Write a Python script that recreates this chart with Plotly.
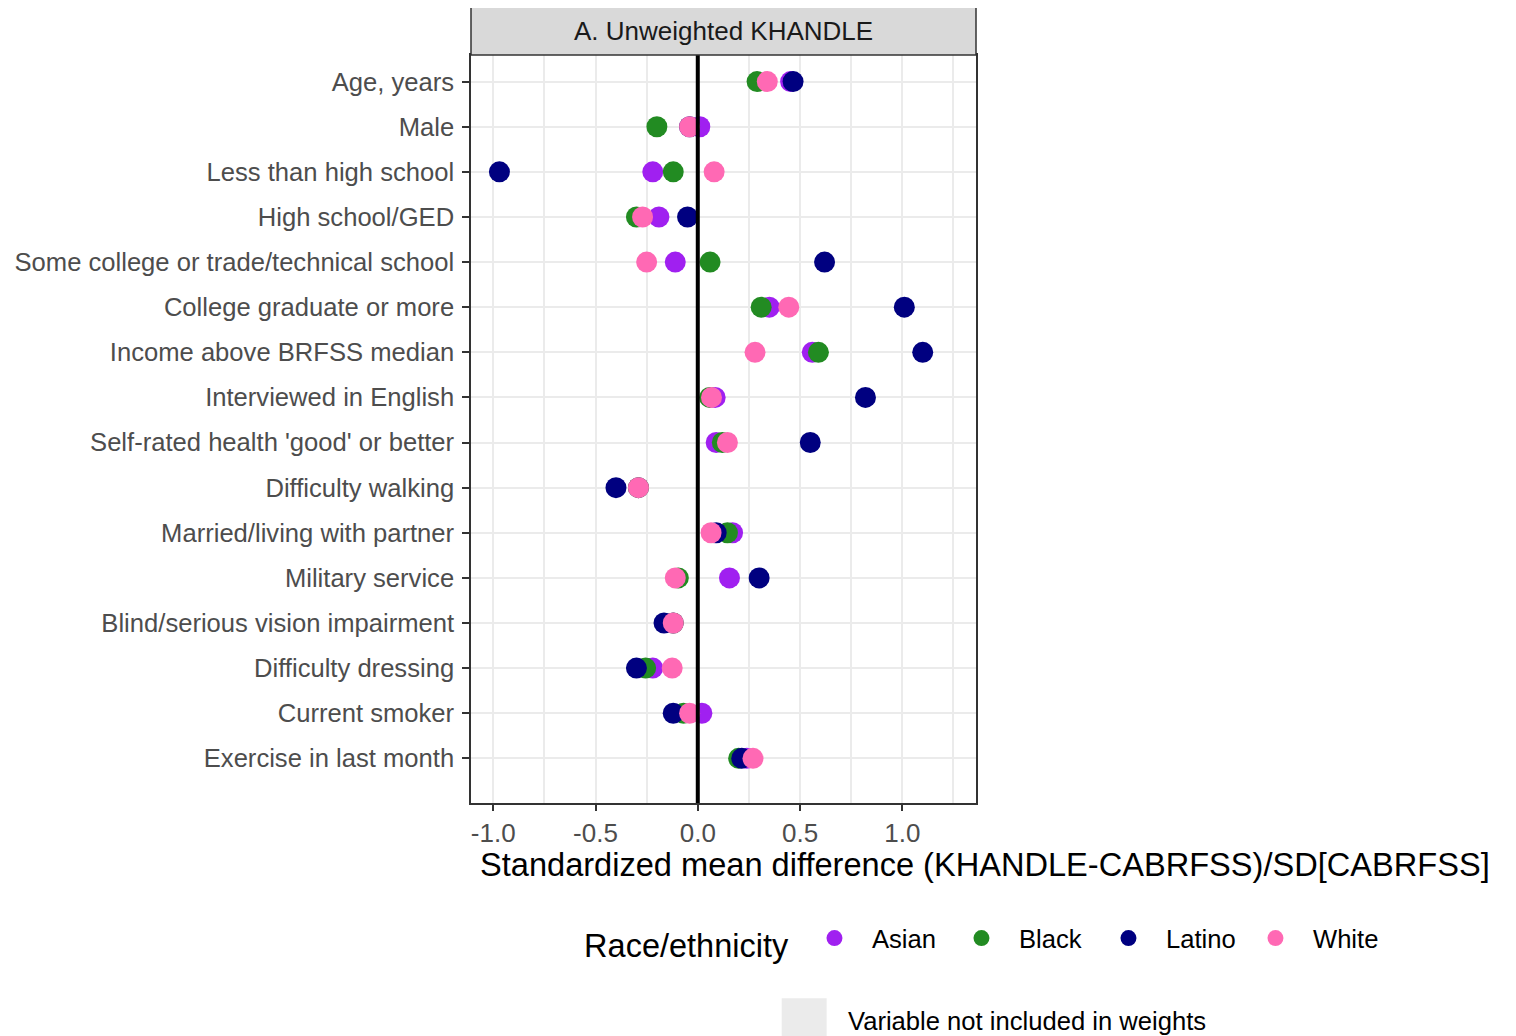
import plotly.graph_objects as go

categories = [
    "Age, years", "Male", "Less than high school", "High school/GED",
    "Some college or trade/technical school", "College graduate or more",
    "Income above BRFSS median", "Interviewed in English",
    "Self-rated health 'good' or better", "Difficulty walking",
    "Married/living with partner", "Military service",
    "Blind/serious vision impairment", "Difficulty dressing",
    "Current smoker", "Exercise in last month",
]

asian = [0.454, 0.01, -0.22, -0.19, -0.11, 0.35, 0.56, 0.085, 0.09, -0.29, 0.17, 0.155, -0.12, -0.22, 0.02, 0.24]
black = [0.29, -0.20, -0.12, -0.30, 0.06, 0.31, 0.59, 0.058, 0.12, -0.29, 0.145, -0.095, -0.12, -0.255, -0.07, 0.20]
latino = [0.466, -0.04, -0.97, -0.05, 0.62, 1.01, 1.10, 0.82, 0.55, -0.40, 0.09, 0.30, -0.165, -0.30, -0.12, 0.215]
white = [0.34, -0.04, 0.08, -0.27, -0.25, 0.445, 0.28, 0.067, 0.145, -0.29, 0.065, -0.11, -0.12, -0.125, -0.04, 0.27]

series_names = ["Asian", "Black", "Latino", "White"]
series_values = [asian, black, latino, white]
series_colors = ["#A020F0", "#228B22", "#000080", "#FF69B4"]

x_tickvals = [-1.0, -0.5, 0.0, 0.5, 1.0]
x_ticktext = ["-1.0", "-0.5", "0.0", "0.5", "1.0"]

FONT = "Liberation Sans, Arial, sans-serif"

# page body has an 8px margin; work in screenshot pixels and convert
OFF = 8
W, H = 1516 - 2 * OFF, 1036 - OFF
L, R, T, B = 471 - OFF, 976.5 - OFF, 55 - OFF, 803.5 - OFF


def px(xp):
    return (xp - OFF - L) / (R - L)


def py(yp):
    return (B - (yp - OFF)) / (B - T)


fig = go.Figure()
for name, vals, col in zip(series_names, series_values, series_colors):
    fig.add_trace(go.Scatter(
        x=vals, y=categories, mode="markers", name=name,
        marker=dict(size=21, color=col, line=dict(width=0)),
        cliponaxis=False,
    ))

fig.update_layout(
    width=W, height=H,
    margin=dict(l=L, r=W - R, t=T, b=H - B, pad=0, autoexpand=False),
    paper_bgcolor="white", plot_bgcolor="white",
    font=dict(family=FONT, size=25.6, color="black"),
    showlegend=True,
    legend=dict(
        orientation="h", x=px(1386), xanchor="right", y=py(942), yanchor="middle",
        title=dict(text="Race/ethnicity", font=dict(size=32.5, color="black"), side="left"),
        font=dict(size=25.6, color="black"),
        entrywidth=67, entrywidthmode="pixels",
        itemwidth=65,
        itemsizing="trace",
        bgcolor="rgba(0,0,0,0)", borderwidth=0,
    ),
    xaxis=dict(
        range=[(471 - 698) / 204.7, (976.5 - 698) / 204.7],
        tickvals=x_tickvals, ticktext=x_ticktext,
        showgrid=True, gridcolor="#EBEBEB", gridwidth=2.2,
        minor=dict(tickvals=[-0.75, -0.25, 0.25, 0.75, 1.25], showgrid=True,
                   gridcolor="#EBEBEB", gridwidth=1.5, ticks=""),
        zeroline=False, automargin=False,
        ticks="outside", ticklen=6, tickwidth=1.5, tickcolor="#333333",
        tickfont=dict(size=26, color="#4D4D4D"),
        showline=True, mirror=True, linecolor="#333333", linewidth=1.5,
    ),
    yaxis=dict(
        type="category", categoryorder="array", categoryarray=categories,
        range=[15.99, -0.59], automargin=False,
        showgrid=True, gridcolor="#EBEBEB", gridwidth=2.2,
        ticks="outside", ticklen=7, tickwidth=1.5, tickcolor="#333333",
        tickfont=dict(size=25.6, color="#4D4D4D"),
        ticklabelstandoff=3,
        showline=True, mirror=True, linecolor="#333333", linewidth=1.5,
        zeroline=False,
    ),
)

# zero reference line (on top of points)
fig.add_shape(type="line", x0=0, x1=0, xref="x", y0=0, y1=1, yref="paper",
              line=dict(color="black", width=4), layer="above")

# facet strip
fig.add_shape(type="rect", xref="paper", yref="paper",
              x0=0, x1=1, y0=1, y1=py(5),
              fillcolor="#D9D9D9", line=dict(color="#333333", width=1.5), layer="above")
fig.add_annotation(text="A. Unweighted KHANDLE", xref="paper", yref="paper",
                   x=0.5, y=py(31), xanchor="center", yanchor="middle",
                   showarrow=False, font=dict(size=26, color="#1A1A1A"))

# x-axis title
fig.add_annotation(text="Standardized mean difference (KHANDLE-CABRFSS)/SD[CABRFSS]",
                   xref="paper", yref="paper", x=px(478), y=py(865),
                   xanchor="left", yanchor="middle", showarrow=False,
                   font=dict(size=32.6, color="black"))

# second legend (fill key)
fig.add_shape(type="rect", xref="paper", yref="paper",
              x0=px(782), x1=px(827), y0=py(1045), y1=py(999),
              fillcolor="#EBEBEB", line=dict(width=0))
fig.add_annotation(text="Variable not included in weights", xref="paper", yref="paper",
                   x=px(846), y=py(1022), xanchor="left", yanchor="middle",
                   showarrow=False, font=dict(size=25.6, color="black"))

fig.write_html("out.html")
